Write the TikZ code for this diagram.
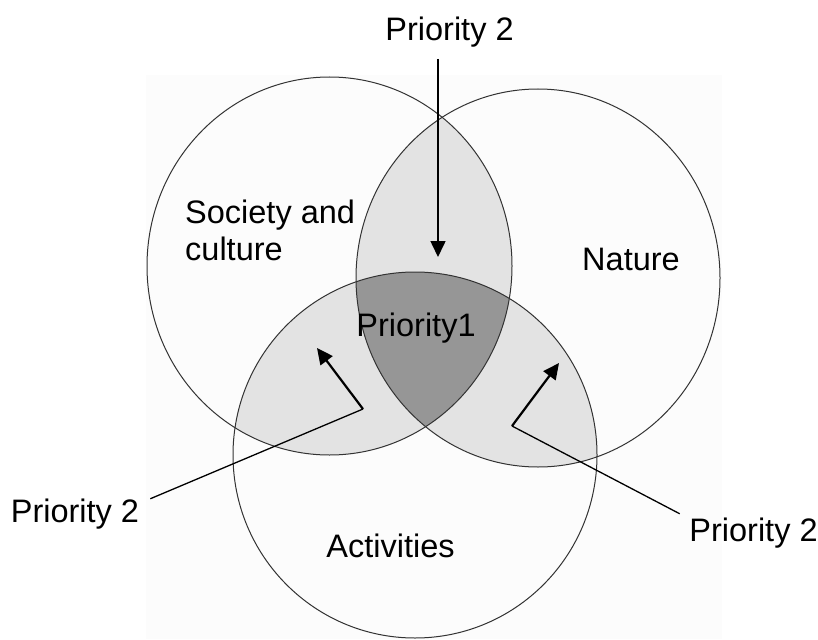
\documentclass[tikz,border=0pt]{standalone}
\usepackage{fontspec}
\setmainfont{Liberation Sans}
\usetikzlibrary{arrows.meta}
\tikzset{
	lbl/.style={font=\fontsize{32.5}{37}\selectfont, inner sep=0pt},
	ring/.style={draw=black!80, line width=1pt},
	leader/.style={line width=1.3pt},
	ptr/.style={line width=2.2pt, -{Triangle[length=16pt,width=15pt]}},
}
\begin{document}
\begin{tikzpicture}[x=1pt,y=-1pt]
	\useasboundingbox (0,0) rectangle (818,639);
	\fill[black!1.2] (146,75) rectangle (722,639);
	\def\soc{(329.5,266) ellipse [x radius=182.5pt, y radius=189pt]}
	\def\nat{(538,278) ellipse [x radius=182pt, y radius=189pt]}
	\def\act{(415,455) ellipse [x radius=182pt, y radius=183pt]}
	\begin{scope}
		\clip \soc;
		\fill[black!11] \nat;
		\fill[black!11] \act;
	\end{scope}
	\begin{scope}
		\clip \nat;
		\fill[black!11] \act;
	\end{scope}
	\begin{scope}
		\clip \soc;
		\clip \nat;
		\fill[black!41] \act;
	\end{scope}
	\draw[ring] \soc;
	\draw[ring] \nat;
	\draw[ring] \act;
	\node[lbl, anchor=base] (ptop) at (449.5,41) {Priority 2};
	\node[lbl, anchor=base] (pleft) at (75,522) {Priority 2};
	\node[lbl, anchor=base] (pright) at (753.5,541) {Priority 2};
	\coordinate (tiptop) at (438,257);
	\coordinate (bendl) at (363,409);
	\coordinate (tipl) at (317,348);
	\coordinate (bendr) at (512,426);
	\coordinate (tipr) at (559,363);
	\draw[ptr, line width=1.6pt] ([shift={(-11.5,11)}]ptop.south) -- (tiptop);
	\draw[leader] ([shift={(11,0.5)}]pleft.north east) -- (bendl);
	\draw[ptr] (bendl) -- (tipl);
	\draw[leader] ([shift={(-9.5,-3.5)}]pright.north west) -- (bendr);
	\draw[ptr] (bendr) -- (tipr);
	\node[lbl, anchor=base west, align=left] (society) at (185,260) {Society and\\culture};
	\node[lbl, anchor=base] (nature) at (631,270) {Nature};
	\node[lbl, anchor=base] (prio1) at (416,336) {Priority1};
	\node[lbl, anchor=base] (activities) at (390.5,557) {Activities};
\end{tikzpicture}
\end{document}
